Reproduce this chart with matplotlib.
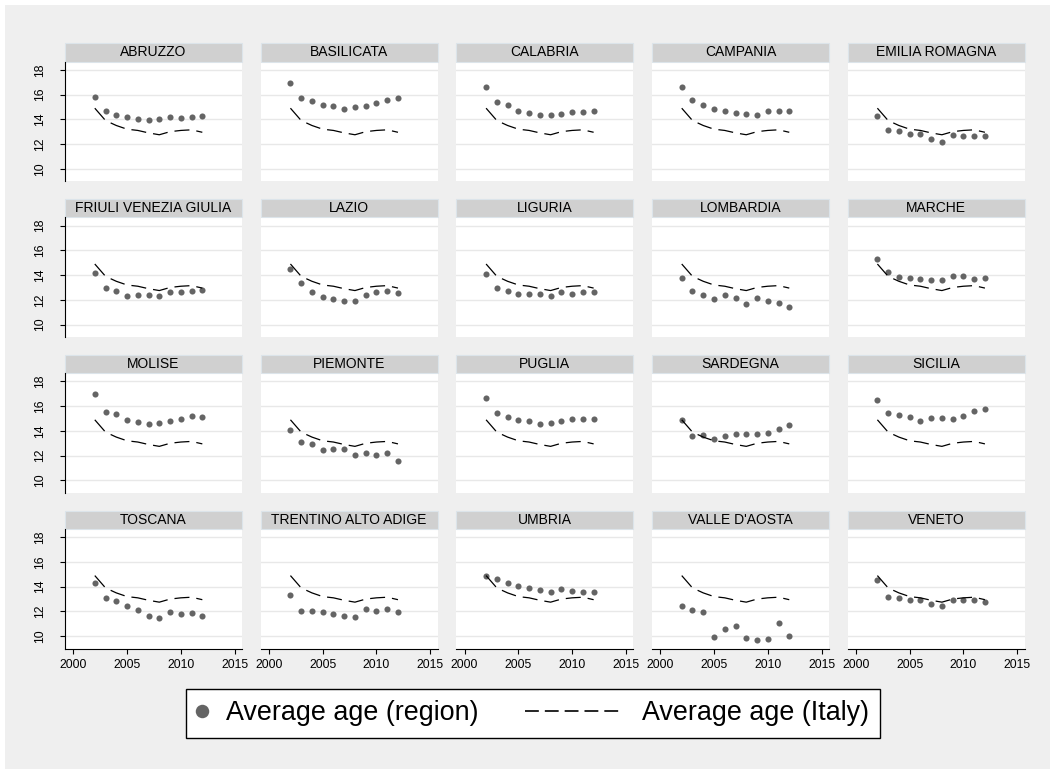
import matplotlib
matplotlib.use("Agg")
import matplotlib.pyplot as plt
from matplotlib.lines import Line2D
from matplotlib.patches import Rectangle
from matplotlib.legend_handler import HandlerLine2D

plt.rcParams['font.family'] = ['Liberation Sans', 'DejaVu Sans']

# Dane (średni wiek, lata 2002-2012)
years = [2002, 2003, 2004, 2005, 2006, 2007, 2008, 2009, 2010, 2011, 2012]
italy = [14.9, 13.9, 13.5, 13.2, 13.1, 12.9, 12.75, 13.0, 13.1, 13.15, 12.95]

regions = ["ABRUZZO", "BASILICATA", "CALABRIA", "CAMPANIA", "EMILIA ROMAGNA",
           "FRIULI VENEZIA GIULIA", "LAZIO", "LIGURIA", "LOMBARDIA", "MARCHE",
           "MOLISE", "PIEMONTE", "PUGLIA", "SARDEGNA", "SICILIA",
           "TOSCANA", "TRENTINO ALTO ADIGE", "UMBRIA", "VALLE D'AOSTA", "VENETO"]

abruzzo = [15.8, 14.64, 14.37, 14.18, 14.02, 13.91, 14.02, 14.18, 14.13, 14.18, 14.24]
basilicata = [16.9, 15.69, 15.47, 15.18, 15.07, 14.83, 14.99, 15.04, 15.31, 15.55, 15.74]
calabria = [16.6, 15.37, 15.15, 14.64, 14.51, 14.32, 14.32, 14.45, 14.56, 14.61, 14.67]
campania = [16.58, 15.53, 15.12, 14.85, 14.69, 14.48, 14.45, 14.32, 14.67, 14.67, 14.67]
emilia = [14.26, 13.16, 13.08, 12.84, 12.81, 12.38, 12.19, 12.76, 12.65, 12.68, 12.65]
friuli = [14.18, 12.94, 12.7, 12.35, 12.43, 12.43, 12.35, 12.67, 12.62, 12.75, 12.83]
lazio = [14.47, 13.4, 12.65, 12.22, 12.06, 11.9, 11.9, 12.41, 12.65, 12.75, 12.59]
liguria = [14.09, 12.94, 12.75, 12.49, 12.49, 12.49, 12.27, 12.65, 12.49, 12.65, 12.65]
lombardia = [13.74, 12.73, 12.41, 12.09, 12.43, 12.17, 11.65, 12.11, 11.87, 11.77, 11.41]
marche = [15.3, 14.26, 13.88, 13.8, 13.72, 13.61, 13.58, 13.96, 13.9, 13.72, 13.74]
molise = [16.95, 15.55, 15.37, 14.91, 14.72, 14.54, 14.67, 14.83, 14.96, 15.23, 15.13]
piemonte = [14.08, 13.09, 12.98, 12.44, 12.57, 12.55, 12.07, 12.23, 12.07, 12.2, 11.56]
puglia = [16.63, 15.42, 15.13, 14.86, 14.78, 14.59, 14.62, 14.8, 14.96, 14.96, 14.96]
sardegna = [14.86, 13.62, 13.68, 13.33, 13.57, 13.76, 13.78, 13.78, 13.81, 14.18, 14.48]
sicilia = [16.5, 15.45, 15.29, 15.1, 14.83, 15.05, 15.07, 14.94, 15.21, 15.63, 15.77]
toscana = [14.34, 13.11, 12.81, 12.41, 12.09, 11.61, 11.45, 11.96, 11.77, 11.88, 11.64]
trentino = [13.35, 12.01, 12.07, 11.93, 11.77, 11.66, 11.56, 12.2, 12.01, 12.2, 11.93]
umbria = [14.88, 14.62, 14.3, 14.05, 13.92, 13.7, 13.57, 13.81, 13.62, 13.57, 13.57]
valle_aosta = [12.41, 12.09, 11.93, 9.97, 10.54, 10.86, 9.81, 9.71, 9.79, 11.1, 10.05]
veneto = [14.51, 13.17, 13.11, 12.9, 12.9, 12.57, 12.47, 12.95, 12.9, 12.95, 12.79]

region_values = [abruzzo, basilicata, calabria, campania, emilia,
                 friuli, lazio, liguria, lombardia, marche,
                 molise, piemonte, puglia, sardegna, sicilia,
                 toscana, trentino, umbria, valle_aosta, veneto]

x_ticks = [2000, 2005, 2010, 2015]
y_ticks = [10, 12, 14, 16, 18]

DOT = '#646464'
W, H = 1055, 770

fig = plt.figure(figsize=(W / 100, H / 100), dpi=100)
fig.patch.set_facecolor('white')
# szare tło regionu wykresu
fig.add_artist(Rectangle((5 / W, 1 - 769 / H), 1045 / W, 764 / H, transform=fig.transFigure,
                         facecolor='#EFEFEF', edgecolor='none', zorder=0))

strip_h = 18.3
plot_h = 119.5
for i, (name, vals) in enumerate(zip(regions, region_values)):
    r, c = divmod(i, 5)
    left = 65 + c * 195.65
    top = 43.3 + r * 155.8 + strip_h
    ax = fig.add_axes([left / W, 1 - (top + plot_h) / H, 177 / W, plot_h / H])
    ax.set_facecolor('white')

    ax.plot(years, vals, ls='none', marker='o', color=DOT, markersize=4.4,
            markeredgewidth=0, zorder=3)
    ax.plot(years, italy, color='black', lw=0.9, dashes=(12, 5.6), zorder=4)

    ax.set_xlim(1999.23, 2015.69)
    ax.set_ylim(9.0, 18.67)
    ax.set_xticks(x_ticks)
    ax.set_yticks(y_ticks)
    ax.yaxis.grid(True, color='#E8E8E8', lw=1.0)
    ax.set_axisbelow(True)

    for s in ['top', 'right']:
        ax.spines[s].set_visible(False)
    ax.spines['left'].set_visible(c == 0)
    ax.spines['bottom'].set_visible(r == 3)
    for s in ['left', 'bottom']:
        ax.spines[s].set_linewidth(0.8)
        ax.spines[s].set_color('black')

    ax.tick_params(axis='y', left=(c == 0), labelleft=(c == 0), length=3.6, width=0.8,
                   pad=10, labelsize=8.7, labelrotation=90)
    for lab in ax.get_yticklabels():
        lab.set_va('center')
    ax.tick_params(axis='x', bottom=(r == 3), labelbottom=(r == 3), length=3.6, width=0.8,
                   pad=4.3, labelsize=8.7)

    # pasek z nazwą regionu
    ax.add_patch(Rectangle((0, 1), 1, strip_h / plot_h, transform=ax.transAxes, clip_on=False,
                           facecolor='#D0D0D0', edgecolor='#DCE4EA', lw=0.8))
    ax.text(0.5, 1 + strip_h / 2 / plot_h, name, transform=ax.transAxes,
            ha='center', va='center', fontsize=10)


class LongDashHandler(HandlerLine2D):
    # linia w legendzie dłuższa niż uchwyt (wydłużona w lewo)
    def create_artists(self, legend, orig_handle, xdescent, ydescent, width, height, fontsize, trans):
        extra = 3.27 * fontsize
        return super().create_artists(legend, orig_handle, xdescent + extra, ydescent,
                                      width + extra, height, fontsize, trans)


h_dot = Line2D([], [], ls='none', marker='o', color=DOT, markersize=9.7, markeredgewidth=0)
h_dash = Line2D([], [], color='black', lw=1.2, dashes=(8.3, 3.6))

fig.legend(handles=[h_dot, h_dash], labels=['Average age (region)', 'Average age (Italy)'],
           loc='upper left', bbox_to_anchor=(186 / W, 1 - 689 / H),
           bbox_transform=fig.transFigure,
           ncol=2, numpoints=1, fontsize=19.4, handlelength=0.32, handletextpad=0.76,
           columnspacing=4.97, borderpad=0.42, borderaxespad=0, frameon=True,
           fancybox=False, edgecolor='black', facecolor='white', framealpha=1,
           handler_map={h_dash: LongDashHandler()})

fig.savefig('out.png', dpi=100)
